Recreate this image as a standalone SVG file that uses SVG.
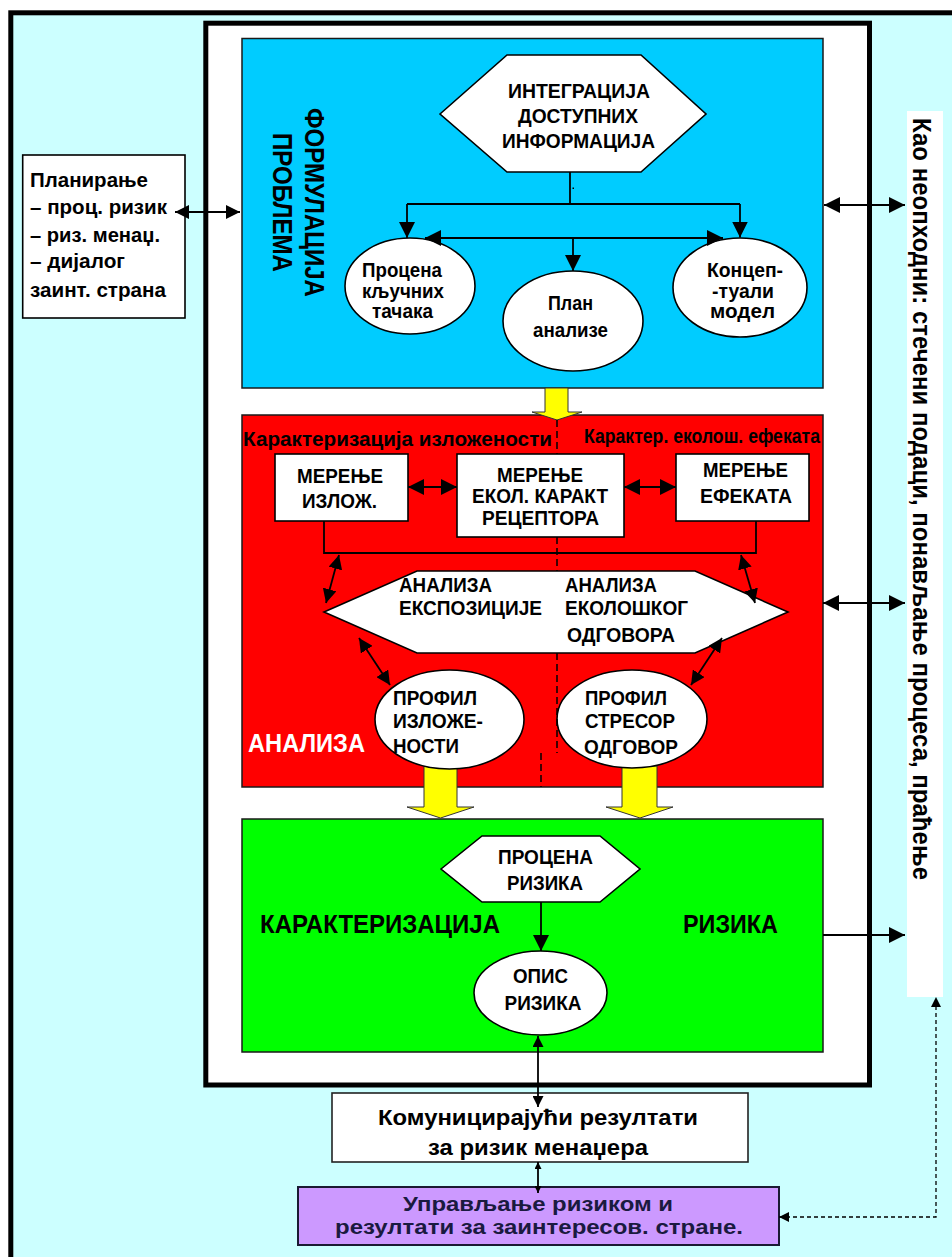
<svg xmlns="http://www.w3.org/2000/svg" width="952" height="1257" viewBox="0 0 952 1257">
<defs>
<style>
.t{font-family:"Liberation Sans",Arial,sans-serif;font-weight:bold;fill:#000}
.ln{stroke:#000;stroke-width:1.8;fill:none}
.sec{stroke:#1a1a1a;stroke-width:1.5}
.wn{fill:#fff;stroke:#000;stroke-width:1.6}
.ya{fill:#FFFF00;stroke:#333;stroke-width:1}
</style>
<marker id="a16" viewBox="0 0 10 10" refX="10" refY="5" markerUnits="userSpaceOnUse" markerWidth="16" markerHeight="16" orient="auto-start-reverse"><path d="M0,0 L10,5 L0,10 z" fill="#000"/></marker>
<marker id="a14" viewBox="0 0 10 10" refX="10" refY="5" markerUnits="userSpaceOnUse" markerWidth="14" markerHeight="14" orient="auto-start-reverse"><path d="M0,0 L10,5 L0,10 z" fill="#000"/></marker>
<marker id="a12" viewBox="0 0 10 10" refX="10" refY="5" markerUnits="userSpaceOnUse" markerWidth="12" markerHeight="11" orient="auto-start-reverse"><path d="M0,0 L10,5 L0,10 z" fill="#000"/></marker>
<marker id="a10" viewBox="0 0 10 10" refX="10" refY="5" markerUnits="userSpaceOnUse" markerWidth="10" markerHeight="10" orient="auto-start-reverse"><path d="M0,0 L10,5 L0,10 z" fill="#000"/></marker>
<marker id="a7" viewBox="0 0 10 10" refX="10" refY="5" markerUnits="userSpaceOnUse" markerWidth="7" markerHeight="7" orient="auto-start-reverse"><path d="M0,0 L10,5 L0,10 z" fill="#000"/></marker>
</defs>

<rect x="0" y="0" width="952" height="1257" fill="#fff"/>
<rect id="outer-frame" x="10.8" y="12.8" width="960" height="1270" fill="#CCFFFF" stroke="#000" stroke-width="5"/>
<rect id="inner-frame" x="205.8" y="23.2" width="663.7" height="1061.8" fill="#fff" stroke="#000" stroke-width="5"/>

<g id="formulacija">
<rect class="sec" x="242" y="38.5" width="581" height="349.5" fill="#00CCFF"/>
<text class="t" font-size="28" transform="translate(305,202.5) rotate(90)" text-anchor="middle" textLength="189" lengthAdjust="spacingAndGlyphs">ФОРМУЛАЦИЈА</text>
<text class="t" font-size="28" transform="translate(273,202.5) rotate(90)" text-anchor="middle" textLength="139" lengthAdjust="spacingAndGlyphs">ПРОБЛЕМА</text>
</g>

<g id="analiza">
<rect class="sec" x="242" y="415" width="581" height="372" fill="#FF0000"/>
<text class="t" font-size="21" x="243" y="446" textLength="309" lengthAdjust="spacingAndGlyphs">Карактеризација изложености</text>
<text class="t" font-size="19.5" x="584" y="443" textLength="236" lengthAdjust="spacingAndGlyphs">Карактер. еколош. ефеката</text>
<text class="t" font-size="26" x="248" y="752" textLength="117" lengthAdjust="spacingAndGlyphs" style="fill:#fff">АНАЛИЗА</text>
</g>

<g id="karakterizacija">
<rect class="sec" x="242" y="819" width="581" height="233" fill="#00FF00"/>
<text class="t" font-size="26.5" x="260" y="933" textLength="240" lengthAdjust="spacingAndGlyphs">КАРАКТЕРИЗАЦИЈА</text>
<text class="t" font-size="26.5" x="683" y="933" textLength="95" lengthAdjust="spacingAndGlyphs">РИЗИКА</text>
</g>

<g id="side-note">
<rect x="907" y="111" width="36" height="886" fill="#fff"/>
<text class="t" font-size="25.5" transform="translate(913,118) rotate(90)" textLength="762" lengthAdjust="spacingAndGlyphs">Као неопходни: стечени подаци, понављање процеса, праћење</text>
</g>

<g id="block-arrows">
<polygon class="ya" points="545,388 568,388 568,412 582,412 557,420 532,412 545,412"/>
<polygon class="ya" points="424,766 457,766 457,807 474,807 440.5,818 407,807 424,807"/>
<polygon class="ya" points="622,766 657,766 657,807 673,807 640,818 606,807 622,807"/>
</g>

<g id="planiranje">
<rect x="22.7" y="155" width="162.3" height="163" fill="#fff" stroke="#000" stroke-width="1.6"/>
<text class="t" font-size="21" x="30" y="187" textLength="118" lengthAdjust="spacingAndGlyphs">Планирање</text>
<text class="t" font-size="21" x="30" y="214" textLength="137" lengthAdjust="spacingAndGlyphs">– проц. ризик</text>
<text class="t" font-size="21" x="30" y="242" textLength="130" lengthAdjust="spacingAndGlyphs">– риз. менаџ.</text>
<text class="t" font-size="21" x="30" y="268" textLength="95" lengthAdjust="spacingAndGlyphs">– дијалог</text>
<text class="t" font-size="21" x="30" y="297" textLength="136" lengthAdjust="spacingAndGlyphs">заинт. страна</text>
</g>

<g id="integracija">
<polygon class="wn" points="440,114 507,55 641,55 706,114 641,172 507,172"/>
<text class="t" font-size="21" x="579" y="98" text-anchor="middle" textLength="142" lengthAdjust="spacingAndGlyphs">ИНТЕГРАЦИЈА</text>
<text class="t" font-size="21" x="578" y="123" text-anchor="middle" textLength="120" lengthAdjust="spacingAndGlyphs">ДОСТУПНИХ</text>
<text class="t" font-size="21" x="578.5" y="148" text-anchor="middle" textLength="153" lengthAdjust="spacingAndGlyphs">ИНФОРМАЦИЈА</text>
</g>

<g id="procena-kljucnih">
<ellipse class="wn" cx="410" cy="286" rx="65" ry="48"/>
<text class="t" font-size="19.5" x="402" y="277" text-anchor="middle" textLength="80" lengthAdjust="spacingAndGlyphs">Процена</text>
<text class="t" font-size="19.5" x="403" y="298" text-anchor="middle" textLength="82" lengthAdjust="spacingAndGlyphs">кључних</text>
<text class="t" font-size="19.5" x="402.5" y="318" text-anchor="middle" textLength="61" lengthAdjust="spacingAndGlyphs">тачака</text>
</g>

<g id="plan-analize">
<ellipse class="wn" cx="573" cy="321" rx="70" ry="50"/>
<text class="t" font-size="19.5" x="570.5" y="310" text-anchor="middle" textLength="45" lengthAdjust="spacingAndGlyphs">План</text>
<text class="t" font-size="19.5" x="570.5" y="337" text-anchor="middle" textLength="75" lengthAdjust="spacingAndGlyphs">анализе</text>
</g>

<g id="konceptualni-model">
<ellipse class="wn" cx="740" cy="287.5" rx="67" ry="49.5"/>
<text class="t" font-size="19.5" x="745" y="277" text-anchor="middle" textLength="76" lengthAdjust="spacingAndGlyphs">Концеп-</text>
<text class="t" font-size="19.5" x="743" y="298" text-anchor="middle" textLength="62" lengthAdjust="spacingAndGlyphs">-туали</text>
<text class="t" font-size="19.5" x="742.5" y="318" text-anchor="middle" textLength="65" lengthAdjust="spacingAndGlyphs">модел</text>
</g>

<g id="merenje-izloz">
<rect class="wn" x="275" y="454" width="133" height="67"/>
<text class="t" font-size="20" x="340" y="483" text-anchor="middle" textLength="86" lengthAdjust="spacingAndGlyphs">МЕРЕЊЕ</text>
<text class="t" font-size="20" x="339.5" y="508" text-anchor="middle" textLength="75" lengthAdjust="spacingAndGlyphs">ИЗЛОЖ.</text>
</g>

<g id="merenje-ekol">
<rect class="wn" x="457" y="454" width="167" height="83"/>
<text class="t" font-size="20" x="540" y="482" text-anchor="middle" textLength="86" lengthAdjust="spacingAndGlyphs">МЕРЕЊЕ</text>
<text class="t" font-size="20" x="540" y="503" text-anchor="middle" textLength="136" lengthAdjust="spacingAndGlyphs">ЕКОЛ. КАРАКТ</text>
<text class="t" font-size="20" x="540.5" y="525" text-anchor="middle" textLength="117" lengthAdjust="spacingAndGlyphs">РЕЦЕПТОРА</text>
</g>

<g id="merenje-efekata">
<rect class="wn" x="676" y="454" width="133" height="67"/>
<text class="t" font-size="20" x="745.5" y="477" text-anchor="middle" textLength="85" lengthAdjust="spacingAndGlyphs">МЕРЕЊЕ</text>
<text class="t" font-size="20" x="746" y="503" text-anchor="middle" textLength="92" lengthAdjust="spacingAndGlyphs">ЕФЕКАТА</text>
</g>

<g id="analiza-hex">
<polygon class="wn" points="324,612 417,571 695,571 788,612 695,653 417,653"/>
<text class="t" font-size="19.5" x="399" y="592" textLength="93" lengthAdjust="spacingAndGlyphs">АНАЛИЗА</text>
<text class="t" font-size="19.5" x="399" y="615" textLength="143" lengthAdjust="spacingAndGlyphs">ЕКСПОЗИЦИЈЕ</text>
<text class="t" font-size="19.5" x="565" y="592" textLength="92" lengthAdjust="spacingAndGlyphs">АНАЛИЗА</text>
<text class="t" font-size="19.5" x="565" y="615" textLength="123" lengthAdjust="spacingAndGlyphs">ЕКОЛОШКОГ</text>
<text class="t" font-size="19.5" x="567" y="642" textLength="108" lengthAdjust="spacingAndGlyphs">ОДГОВОРА</text>
</g>

<g id="profil-izlozenosti">
<ellipse class="wn" cx="449.5" cy="719.5" rx="74.5" ry="49.5"/>
<text class="t" font-size="19.5" x="393" y="705" textLength="84" lengthAdjust="spacingAndGlyphs">ПРОФИЛ</text>
<text class="t" font-size="19.5" x="393" y="728" textLength="90" lengthAdjust="spacingAndGlyphs">ИЗЛОЖЕ-</text>
<text class="t" font-size="19.5" x="393" y="753" textLength="66" lengthAdjust="spacingAndGlyphs">НОСТИ</text>
</g>

<g id="profil-stresor">
<ellipse class="wn" cx="632" cy="719" rx="75" ry="49"/>
<text class="t" font-size="19.5" x="585" y="705" textLength="82" lengthAdjust="spacingAndGlyphs">ПРОФИЛ</text>
<text class="t" font-size="19.5" x="585" y="728" textLength="90" lengthAdjust="spacingAndGlyphs">СТРЕСОР</text>
<text class="t" font-size="19.5" x="584" y="754" textLength="94" lengthAdjust="spacingAndGlyphs">ОДГОВОР</text>
</g>

<g id="procena-rizika">
<polygon class="wn" points="441,869 482,836 600,836 640,869 600,902 482,902"/>
<text class="t" font-size="19.5" x="545.5" y="864" text-anchor="middle" textLength="95" lengthAdjust="spacingAndGlyphs">ПРОЦЕНА</text>
<text class="t" font-size="19.5" x="545" y="890" text-anchor="middle" textLength="76" lengthAdjust="spacingAndGlyphs">РИЗИКА</text>
</g>

<g id="opis-rizika">
<ellipse class="wn" cx="540.5" cy="993" rx="66.5" ry="42"/>
<text class="t" font-size="19.5" x="540.5" y="983" text-anchor="middle" textLength="55" lengthAdjust="spacingAndGlyphs">ОПИС</text>
<text class="t" font-size="19.5" x="543" y="1010" text-anchor="middle" textLength="77" lengthAdjust="spacingAndGlyphs">РИЗИКА</text>
</g>

<g id="komuniciranje">
<rect x="332" y="1093" width="416" height="69" fill="#fff" stroke="#222" stroke-width="1.6"/>
<text class="t" font-size="22" x="538" y="1125" text-anchor="middle" textLength="320" lengthAdjust="spacingAndGlyphs">Комуницирајући резултати</text>
<text class="t" font-size="22" x="538" y="1155" text-anchor="middle" textLength="220" lengthAdjust="spacingAndGlyphs">за ризик менаџера</text>
</g>

<g id="upravljanje">
<rect x="298" y="1187" width="481" height="58" fill="#CC99FF" stroke="#1a1a33" stroke-width="2"/>
<text class="t" font-size="20.5" x="538" y="1211" text-anchor="middle" textLength="270" lengthAdjust="spacingAndGlyphs" style="fill:#1a1a40">Управљање ризиком и</text>
<text class="t" font-size="20.5" x="539" y="1234" text-anchor="middle" textLength="408" lengthAdjust="spacingAndGlyphs" style="fill:#1a1a40">резултати за заинтересов. стране.</text>
</g>

<g id="connectors">
<line class="ln" x1="175" y1="212" x2="240" y2="212" marker-start="url(#a14)" marker-end="url(#a14)"/>
<polyline class="ln" points="570,172 570,204"/>
<line class="ln" x1="407" y1="204" x2="740" y2="204"/>
<line class="ln" x1="407" y1="204" x2="407" y2="238" marker-end="url(#a16)"/>
<line class="ln" x1="740" y1="204" x2="740" y2="237.5" marker-end="url(#a16)"/>
<line class="ln" x1="425" y1="238" x2="723" y2="238" marker-start="url(#a16)" marker-end="url(#a16)"/>
<line class="ln" x1="573" y1="238" x2="573" y2="271" marker-end="url(#a16)"/>
<rect x="572.5" y="187.5" width="1.5" height="1.5" fill="#000"/>
<line class="ln" x1="824" y1="205" x2="905" y2="205" marker-start="url(#a16)" marker-end="url(#a16)"/>
<line class="ln" x1="408" y1="487" x2="457" y2="487" marker-start="url(#a16)" marker-end="url(#a16)"/>
<line class="ln" x1="624" y1="487" x2="676" y2="487" marker-start="url(#a16)" marker-end="url(#a16)"/>
<polyline class="ln" points="324,521 324,553 756,553 756,521"/>
<line class="ln" x1="339" y1="555" x2="326" y2="603" marker-start="url(#a14)" marker-end="url(#a14)"/>
<line class="ln" x1="741" y1="555" x2="755" y2="603" marker-start="url(#a14)" marker-end="url(#a14)"/>
<line class="ln" x1="359" y1="638" x2="390" y2="685" marker-start="url(#a14)" marker-end="url(#a14)"/>
<line class="ln" x1="722" y1="638" x2="691" y2="685" marker-start="url(#a14)" marker-end="url(#a14)"/>
<line class="ln" x1="823" y1="603" x2="905" y2="603" marker-start="url(#a16)" marker-end="url(#a16)"/>
<g stroke="#000" stroke-width="1.5" stroke-dasharray="7,4" fill="none">
<line x1="557" y1="420" x2="557" y2="454"/>
<line x1="557" y1="537" x2="557" y2="571"/>
<line x1="557" y1="653" x2="557" y2="753"/>
<line x1="541" y1="753" x2="541" y2="787"/>
</g>
<line class="ln" x1="541" y1="902" x2="541" y2="951" marker-end="url(#a16)"/>
<line class="ln" x1="823" y1="935" x2="905" y2="935" marker-end="url(#a16)"/>
<line class="ln" x1="538" y1="1036" x2="538" y2="1107" marker-start="url(#a12)" marker-end="url(#a12)"/>
<line class="ln" x1="538" y1="1162" x2="538" y2="1193" marker-start="url(#a7)" marker-end="url(#a7)"/>
<polyline points="779,1217 936,1217 936,997" fill="none" stroke="#000" stroke-width="1.3" stroke-dasharray="4,3" marker-start="url(#a10)" marker-end="url(#a10)"/>
</g>
</svg>
